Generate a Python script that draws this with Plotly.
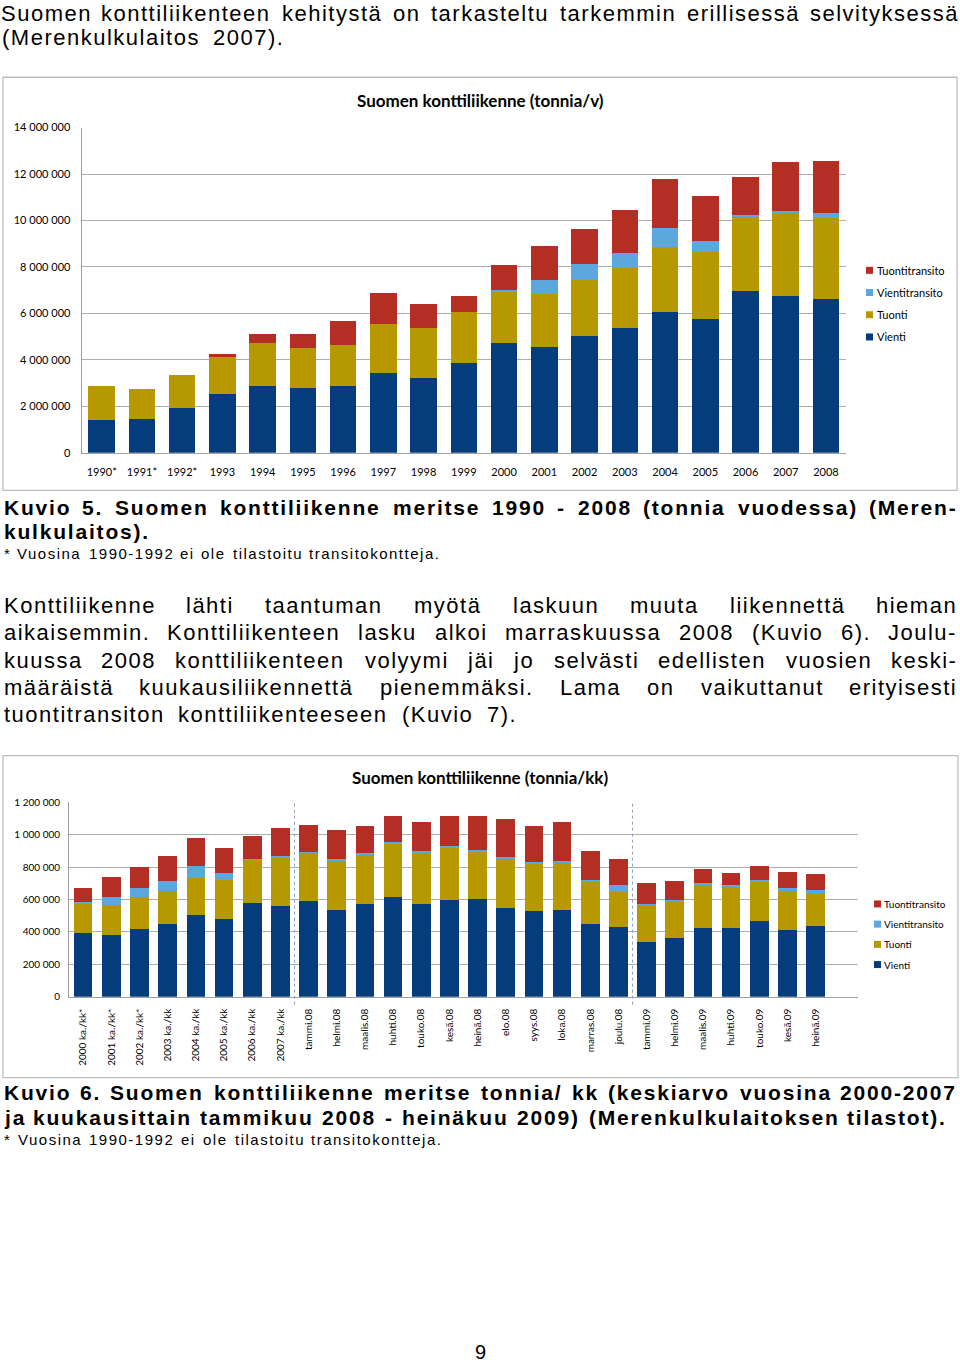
import plotly.graph_objects as go

W, H = 960, 1365

# ---------------- data: chart 1 (tonnes per year) ----------------
years = ["1990*", "1991*", "1992*", "1993", "1994", "1995", "1996", "1997", "1998", "1999",
         "2000", "2001", "2002", "2003", "2004", "2005", "2006", "2007", "2008"]
vienti_y = [1420000, 1470000, 1920000, 2520000, 2890000, 2790000, 2890000, 3450000, 3220000, 3880000,
            4730000, 4570000, 5020000, 5360000, 6070000, 5750000, 6970000, 6760000, 6600000]
tuonti_y = [1470000, 1260000, 1420000, 1640000, 1830000, 1700000, 1750000, 2090000, 2160000, 2170000,
            2230000, 2250000, 2410000, 2590000, 2790000, 2910000, 3170000, 3540000, 3500000]
vientitransito_y = [0, 0, 0, 0, 0, 0, 0, 0, 0, 0,
                    60000, 630000, 680000, 660000, 830000, 460000, 100000, 100000, 200000]
tuontitransito_y = [0, 0, 0, 80000, 370000, 630000, 1030000, 1320000, 1010000, 680000,
                    1060000, 1450000, 1540000, 1830000, 2100000, 1950000, 1650000, 2100000, 2260000]
y1_tickvals = [0, 2000000, 4000000, 6000000, 8000000, 10000000, 12000000, 14000000]
y1_ticktext = ["0", "2 000 000", "4 000 000", "6 000 000", "8 000 000", "10 000 000", "12 000 000", "14 000 000"]

# ---------------- data: chart 2 (tonnes per month) ----------------
months = ["2000 ka./kk*", "2001 ka./kk*", "2002 ka./kk*", "2003 ka./kk", "2004 ka./kk", "2005 ka./kk",
          "2006 ka./kk", "2007 ka./kk", "tammi.08", "helmi.08", "maalis.08", "huhti.08", "touko.08",
          "kesä.08", "heinä.08", "elo.08", "syys.08", "loka.08", "marras.08", "joulu.08",
          "tammi.09", "helmi.09", "maalis.09", "huhti.09", "touko.09", "kesä.09", "heinä.09"]
vienti_m = [393000, 381000, 416000, 447000, 504000, 477000, 578000, 558000, 591000, 537000, 570000,
            615000, 574000, 595000, 603000, 549000, 531000, 533000, 451000, 430000, 340000, 364000,
            426000, 426000, 467000, 414000, 434000]
tuonti_m = [183000, 185000, 199000, 207000, 231000, 241000, 266000, 300000, 296000, 300000, 304000,
            325000, 315000, 321000, 290000, 299000, 286000, 296000, 255000, 218000, 230000, 229000,
            267000, 255000, 243000, 238000, 210000]
vientitransito_m = [7000, 49000, 58000, 60000, 70000, 43000, 8000, 8000, 6000, 13000, 11000, 15000,
                    12000, 14000, 14000, 16000, 16000, 10000, 16000, 43000, 4000, 4000, 11000, 10000,
                    10000, 19000, 12000]
tuontitransito_m = [86000, 124000, 127000, 154000, 176000, 159000, 138000, 173000, 167000, 177000,
                    166000, 158000, 179000, 187000, 210000, 231000, 220000, 237000, 177000, 159000,
                    126000, 115000, 82000, 70000, 87000, 101000, 101000]
y2_tickvals = [0, 200000, 400000, 600000, 800000, 1000000, 1200000]
y2_ticktext = ["0", "200 000", "400 000", "600 000", "800 000", "1 000 000", "1 200 000"]

series_names = ["Vienti", "Tuonti", "Vientitransito", "Tuontitransito"]
legend_names = ["Tuontitransito", "Vientitransito", "Tuonti", "Vienti"]
title1 = "Suomen konttiliikenne (tonnia/v)"
title2 = "Suomen konttiliikenne (tonnia/kk)"

# ---------------- page text ----------------
top_lines = ["Suomen konttiliikenteen kehitystä on tarkasteltu tarkemmin erillisessä selvityksessä",
             "(Merenkulkulaitos 2007)."]
caption5 = ["Kuvio  5. Suomen konttiliikenne meritse 1990 - 2008 (tonnia vuodessa) (Meren-",
            "kulkulaitos)."]
footnote = "* Vuosina 1990-1992 ei ole tilastoitu transitokontteja."
paragraph = ["Konttiliikenne lähti taantuman myötä laskuun muuta liikennettä hieman",
             "aikaisemmin. Konttiliikenteen lasku alkoi marraskuussa 2008 (Kuvio  6). Joulu-",
             "kuussa 2008 konttiliikenteen volyymi jäi jo selvästi edellisten vuosien keski-",
             "määräistä kuukausiliikennettä pienemmäksi. Lama on vaikuttanut erityisesti",
             "tuontitransiton konttiliikenteeseen (Kuvio  7)."]
caption6 = ["Kuvio  6. Suomen konttiliikenne meritse tonnia/ kk (keskiarvo vuosina 2000-2007",
            "ja kuukausittain tammikuu 2008 - heinäkuu 2009) (Merenkulkulaitoksen tilastot)."]
page_number = "9"

# ---------------- styles ----------------
C_VIENTI = "#043C7C"
C_TUONTI = "#B69900"
C_VT = "#5CA7DD"
C_TT = "#B42E26"
colors = [C_VIENTI, C_TUONTI, C_VT, C_TT]
legend_colors = [C_TT, C_VT, C_TUONTI, C_VIENTI]
GRID = "#ADADAD"
AXL = "#A0A0A0"
CHART_FONT = "Lato, Carlito, Calibri, sans-serif"
BODY_FONT = "Liberation Sans, Arial, sans-serif"

# vertical calibration of the page photo (page pixel -> figure pixel)
Y_SCALE = 0.99
Y_OFF = 6.8


def px(x):
    return x / W


def py(y):
    return 1 - ((y - Y_OFF) / Y_SCALE) / H


fig = go.Figure()

for name, vals, col in zip(series_names, [vienti_y, tuonti_y, vientitransito_y, tuontitransito_y], colors):
    fig.add_trace(go.Bar(x=years, y=vals, name=name, marker=dict(color=col, line=dict(width=0)),
                         xaxis="x", yaxis="y", showlegend=False))
for name, vals, col in zip(series_names, [vienti_m, tuonti_m, vientitransito_m, tuontitransito_m], colors):
    fig.add_trace(go.Bar(x=months, y=vals, name=name, marker=dict(color=col, line=dict(width=0)),
                         xaxis="x2", yaxis="y2", showlegend=False))

# ---------------- text layout helpers ----------------
AR = {}
for chars, w in [("ijl", 222), (" ft.,:;!/I'", 278), ("r()-", 333), ("*", 389), ("cksvxyzJ", 500),
                 ("abdeghnopqu0123456789äöL", 556), ("FTZ", 611), ("ABEKPSVXY", 667),
                 ("wCDHNRU", 722), ("GOQ", 778), ("mM", 833), ("W", 944)]:
    for c in chars:
        AR[c] = w
AB = {}
for chars, w in [("ijl .,/I:;'", 278), ("ft()-!", 333), ("r*", 389), ("z", 500),
                 ("acesvxyk0123456789äJ", 556), ("bdghnopquöLFTZ", 611), ("ESVXYP", 667),
                 ("ABCDHKNRU", 722), ("GOQw", 778), ("M", 833), ("m", 889), ("W", 944)]:
    for c in chars:
        AB[c] = w

annotations = []


def word_w(word, size, bold, ls):
    tbl = AB if bold else AR
    return sum(tbl.get(c, 556) for c in word) * size / 1000.0 + ls * len(word)


def add_line(text, y, x0, x1, size, bold=False, ls=1.5):
    words = text.split()
    fnt = dict(family=BODY_FONT, size=size, color="black", weight="bold" if bold else "normal")

    def ann(word, x, anchor):
        annotations.append(dict(text="<span style='letter-spacing:%.2fpx'>%s</span>" % (ls, word),
                                x=px(x), y=py(y), xref="paper", yref="paper", showarrow=False,
                                xanchor=anchor, yanchor="middle", font=fnt, borderpad=0))
    if len(words) == 1:
        ann(words[0], x0, "left")
        return
    ws = [word_w(w, size, bold, ls) for w in words]
    gap = (x1 - x0 - sum(ws)) / (len(words) - 1)
    cur = x0
    for i, (w, wd) in enumerate(zip(words, ws)):
        if i == 0:
            ann(w, x0, "left")
        elif i == len(words) - 1:
            ann(w, x1, "right")
        else:
            ann(w, cur + wd / 2, "center")
        cur += wd + gap


add_line(top_lines[0], 13.5, 0, 960, 22)
add_line(top_lines[1], 37.5, 1, 285, 22)
add_line(caption5[0], 507, 3, 958, 21, bold=True, ls=1.8)
add_line(caption5[1], 531, 3, 147, 21, bold=True, ls=1.8)
add_line(footnote, 553, 3, 441, 15, ls=1.5)
para_y = [605, 632, 660, 687, 714]
para_x1 = [958, 958, 958, 958, 518]
for t, yy, xx in zip(paragraph, para_y, para_x1):
    add_line(t, yy, 3, xx, 22)
add_line(caption6[0], 1092, 3, 958, 21, bold=True, ls=1.8)
add_line(caption6[1], 1117, 3, 948, 21, bold=True, ls=1.8)
add_line(footnote, 1139, 3, 443, 15, ls=1.5)
annotations.append(dict(text=page_number, x=px(480), y=py(1351), xref="paper", yref="paper",
                        showarrow=False, xanchor="center", yanchor="middle", borderpad=0,
                        font=dict(family=BODY_FONT, size=20, color="black")))

# chart titles
for t, yy in [(title1, 100), (title2, 777)]:
    annotations.append(dict(text=t, x=px(480), y=py(yy), xref="paper", yref="paper", showarrow=False,
                            xanchor="center", yanchor="middle",
                            font=dict(family=CHART_FONT, size=17, color="black", weight="bold")))

shapes = []
# chart frames
for (x0, y0, x1, y1) in [(3, 77, 957, 490), (3, 755, 958, 1077)]:
    shapes.append(dict(type="rect", xref="paper", yref="paper", x0=px(x0), x1=px(x1), y0=py(y0), y1=py(y1),
                       line=dict(color="#BDBDBD", width=1.3), fillcolor="rgba(0,0,0,0)", layer="below"))

# manual legends
for i, (nm, col) in enumerate(zip(legend_names, legend_colors)):
    for (sx, tx, y0, dy, fs) in [(866, 876, 270, 22.2, 11), (874, 883, 903.3, 20.2, 10)]:
        yy = y0 + i * dy
        shapes.append(dict(type="rect", xref="paper", yref="paper", x0=px(sx), x1=px(sx + 7),
                           y0=py(yy + 3.5), y1=py(yy - 3.5), line=dict(width=0), fillcolor=col))
        annotations.append(dict(text=nm, x=px(tx), y=py(yy), xref="paper", yref="paper", showarrow=False,
                                xanchor="left", yanchor="middle", borderpad=0,
                                font=dict(family=CHART_FONT, size=fs, color="black")))

# dotted separators in chart 2
for xv in [7.5, 19.5]:
    shapes.append(dict(type="line", xref="x2", yref="paper", x0=xv, x1=xv, y0=py(1004), y1=py(801.7),
                       line=dict(color="#8FA2BA", width=1, dash="dot")))

fig.update_layout(
    width=W, height=H, autosize=False,
    margin=dict(l=0, r=0, t=0, b=0),
    paper_bgcolor="white", plot_bgcolor="white",
    barmode="stack", bargap=0.34,
    showlegend=False,
    xaxis=dict(domain=[px(81.6), px(846.1)], anchor="y", showgrid=False, showline=True,
               linecolor=AXL, linewidth=1, ticks="", ticklabelstandoff=9,
               tickfont=dict(family=CHART_FONT, size=11, color="black"), fixedrange=True),
    yaxis=dict(domain=[py(452.3), py(127.3)], anchor="x", range=[0, 14000000],
               tickmode="array", tickvals=y1_tickvals, ticktext=y1_ticktext,
               showgrid=True, gridcolor=GRID, gridwidth=1, zeroline=False, showline=True,
               linecolor=AXL, linewidth=1, ticks="", ticklabelstandoff=8,
               tickfont=dict(family=CHART_FONT, size=11, color="black"), fixedrange=True),
    xaxis2=dict(domain=[px(69.1), px(857.9)], anchor="y2", range=[-0.5, 27.5],
                tickmode="array", tickvals=months, ticktext=months, tickangle=-90,
                showgrid=False, showline=True, linecolor=AXL, linewidth=1, ticks="",
                ticklabelstandoff=7, tickfont=dict(family=CHART_FONT, size=10, color="black"),
                fixedrange=True),
    yaxis2=dict(domain=[py(996), py(801.7)], anchor="x2", range=[0, 1200000],
                tickmode="array", tickvals=y2_tickvals, ticktext=y2_ticktext,
                showgrid=True, gridcolor=GRID, gridwidth=1, zeroline=False, showline=True,
                linecolor=AXL, linewidth=1, ticks="", ticklabelstandoff=6,
                tickfont=dict(family=CHART_FONT, size=10, color="black"), fixedrange=True),
    annotations=annotations,
    shapes=shapes,
)

fig.write_html("out.html",
               config={"displayModeBar": False},
               post_script="var d=document.documentElement;d.style.margin='0';d.style.padding='0';"
                           "d.style.overflow='hidden';"
                           "var b=document.body;b.style.margin='0';b.style.padding='0';"
                           "b.style.overflow='hidden';b.style.height='1365px';")
